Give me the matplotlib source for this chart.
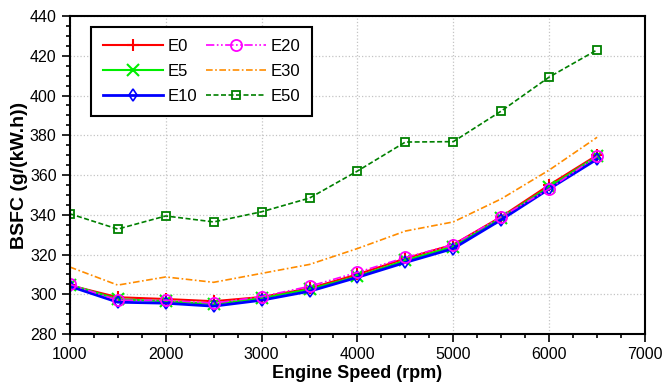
import matplotlib
matplotlib.use('Agg')
import matplotlib.pyplot as plt
from matplotlib.ticker import MultipleLocator

plt.rcParams['font.family'] = ['Liberation Sans', 'DejaVu Sans']

speed = [1000, 1500, 2000, 2500, 3000, 3500, 4000, 4500, 5000, 5500, 6000, 6500]
e0 = [304.5, 298.5, 297.6, 296.5, 298.6, 303.0, 310.0, 318.0, 325.0, 339.0, 355.0, 370.0]
e5 = [304.8, 297.5, 296.5, 295.0, 298.0, 302.5, 309.0, 317.0, 324.0, 338.5, 354.0, 369.5]
e10 = [304.0, 296.0, 295.5, 294.0, 297.0, 301.5, 308.5, 316.0, 323.0, 337.5, 353.0, 368.0]
e20 = [305.0, 297.0, 297.0, 295.5, 298.8, 304.0, 311.0, 318.5, 325.0, 339.0, 353.0, 369.5]
e30 = [313.7, 304.6, 308.7, 306.0, 310.5, 315.0, 323.0, 331.8, 336.4, 348.0, 362.5, 379.0]
e50 = [340.5, 332.8, 339.4, 336.4, 341.5, 348.4, 362.0, 376.6, 376.8, 392.2, 409.3, 423.0]

fig = plt.figure(figsize=(6.65, 3.92), dpi=100)
ax = fig.add_axes([0.105, 0.148, 0.865, 0.811])

ax.plot(speed, e0, color='red', lw=1.5, marker='+', ms=9, mew=1.5, label='E0')
ax.plot(speed, e5, color='#00ee00', lw=1.5, marker='x', ms=8, mew=1.5, label='E5')
ax.plot(speed, e10, color='blue', lw=2, marker='d', ms=6, mfc='none', mew=1.2, label='E10')
ax.plot(speed, e20, color='magenta', lw=1.2, ls=(0, (5, 1.5, 1, 1.5, 1, 1.5)),
        marker='o', ms=8, mfc='none', mew=1.3, label='E20')
ax.plot(speed, e30, color='#ff8c00', lw=1.2, ls=(0, (4, 1.5, 1, 1.5)), label='E30')
ax.plot(speed, e50, color='green', lw=1.2, ls=(0, (3, 1.5)),
        marker='s', ms=6, mfc='none', mew=1.3, label='E50')

ax.set_xlim(1000, 7000)
ax.set_ylim(280, 440)
ax.xaxis.set_major_locator(MultipleLocator(1000))
ax.xaxis.set_minor_locator(MultipleLocator(250))
ax.yaxis.set_major_locator(MultipleLocator(20))
ax.yaxis.set_minor_locator(MultipleLocator(5))
ax.grid(True, which='major', ls=':', color='#c4c4c4', lw=0.9)
ax.tick_params(which='both', direction='out', labelsize=11.5, width=1.2)
ax.tick_params(which='major', length=6)
ax.tick_params(which='minor', length=3)
for s in ax.spines.values():
    s.set_linewidth(1.5)

ax.set_xlabel('Engine Speed (rpm)', fontsize=13, fontweight='bold', labelpad=2)
ax.set_ylabel('BSFC (g/(kW.h))', fontsize=14, fontweight='bold', labelpad=1)

leg = ax.legend(ncol=2, loc='upper left', bbox_to_anchor=(0.037, 0.965), borderaxespad=0,
                fancybox=False, edgecolor='black', fontsize=12, handlelength=3.6,
                columnspacing=0.5, handletextpad=0.3, labelspacing=0.6,
                borderpad=0.7, framealpha=1)
leg.get_frame().set_linewidth(1.5)

fig.savefig('out.png', dpi=100)
